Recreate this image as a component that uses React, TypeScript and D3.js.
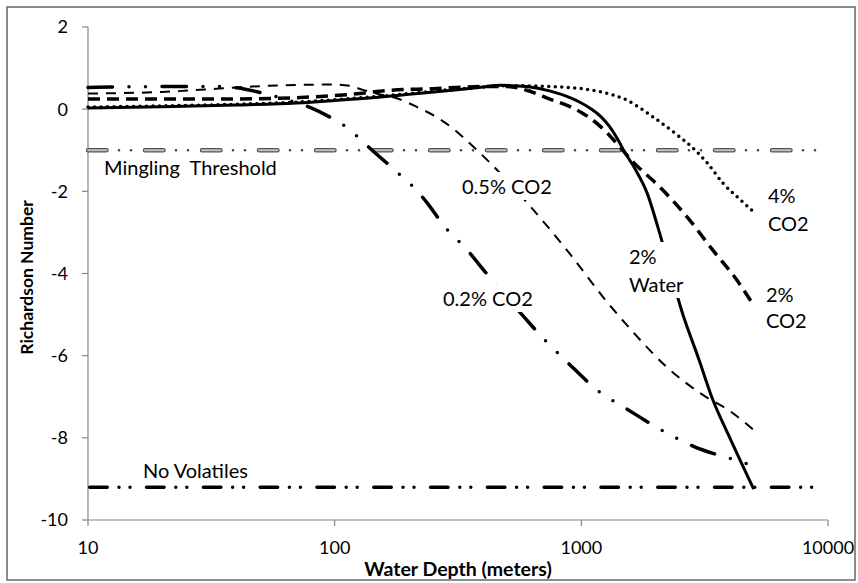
import React, { useEffect, useRef } from 'react';
import * as d3 from 'd3';

const W = 858;
const H = 583;

const xTicks = [10, 100, 1000, 10000];
const yTicks = [2, 0, -2, -4, -6, -8, -10];

// 2% Water (solid)
const water2Depth = [10, 20, 40, 70, 100, 150, 200, 300, 400, 470, 600, 750, 900, 1000, 1100, 1200, 1300, 1400, 1500, 1650, 1850, 2050, 2250, 2550, 3000, 3400, 4000, 5000];
const water2Ri = [0.03, 0.06, 0.1, 0.15, 0.21, 0.29, 0.36, 0.46, 0.54, 0.58, 0.55, 0.44, 0.28, 0.15, 0.0, -0.18, -0.42, -0.72, -1.05, -1.45, -2.05, -2.9, -3.75, -4.9, -6.1, -7.05, -8.0, -9.25];

// 2% CO2 (thick dashed)
const co2TwoDepth = [10, 40, 70, 100, 130, 160, 250, 400, 500, 600, 750, 900, 1000, 1200, 1400, 1600, 2100, 2750, 3400, 4270, 5000];
const co2TwoRi = [0.25, 0.25, 0.28, 0.33, 0.39, 0.45, 0.5, 0.55, 0.55, 0.46, 0.24, 0.06, -0.08, -0.43, -0.85, -1.25, -1.92, -2.7, -3.42, -4.16, -4.78];

// 4% CO2 (dotted)
const co2FourDepth = [10, 20, 40, 70, 100, 150, 200, 300, 400, 500, 750, 1000, 1200, 1530, 1900, 2450, 2830, 3230, 3750, 4400, 5000];
const co2FourRi = [0.05, 0.08, 0.12, 0.17, 0.23, 0.31, 0.38, 0.48, 0.54, 0.57, 0.55, 0.5, 0.42, 0.22, -0.14, -0.63, -0.94, -1.3, -1.8, -2.2, -2.5];

// 0.5% CO2 (thin dashed)
const co2HalfDepth = [10, 20, 30, 40, 60, 100, 115, 130, 150, 180, 216, 260, 300, 331, 378, 427, 603, 874, 1270, 1618, 2223, 3027, 4117, 5000];
const co2HalfRi = [0.38, 0.42, 0.48, 0.53, 0.58, 0.6, 0.57, 0.47, 0.37, 0.26, 0.05, -0.2, -0.46, -0.68, -1.0, -1.31, -2.28, -3.43, -4.69, -5.42, -6.28, -6.91, -7.4, -7.81];

// 0.2% CO2 (long dash dot dot)
const co2FifthDepth = [10, 20, 35, 40, 52, 65, 79, 100, 113, 128, 142, 175, 216, 237, 280, 341, 418, 590, 711, 874, 1189, 1530, 2183, 2834, 4196, 5000];
const co2FifthRi = [0.53, 0.55, 0.55, 0.52, 0.38, 0.22, 0.05, -0.26, -0.46, -0.75, -1.0, -1.48, -1.99, -2.28, -2.87, -3.4, -4.04, -5.08, -5.62, -6.15, -6.89, -7.3, -7.86, -8.2, -8.54, -8.68];

// Reference lines
const refDepth = [10, 10000];
const minglingRi = [-1, -1];
const noVolatilesRi = [-9.2, -9.2];

const FONT = 'Lato, "Open Sans", sans-serif';

export default function App() {
  const ref = useRef<SVGSVGElement>(null);

  useEffect(() => {
    const svg = d3.select(ref.current as SVGSVGElement);
    svg.selectAll('*').remove();

    const x = d3.scaleLog().domain([10, 10000]).range([88, 828]);
    const y = d3.scaleLinear().domain([-10, 2]).range([520, 27]);

    svg.append('rect').attr('x', 0).attr('y', 0).attr('width', W).attr('height', H).attr('fill', '#fff');
    svg.append('rect').attr('x', 7).attr('y', 7).attr('width', 848).attr('height', 573)
      .attr('fill', 'none').attr('stroke', '#666').attr('stroke-width', 1.5);

    // axes
    const axisColor = '#868686';
    const g = svg.append('g');
    g.append('line').attr('x1', x(10)).attr('x2', x(10)).attr('y1', y(2)).attr('y2', y(-10))
      .attr('stroke', axisColor).attr('stroke-width', 1.2);
    g.append('line').attr('x1', x(10)).attr('x2', x(10000)).attr('y1', y(-10)).attr('y2', y(-10))
      .attr('stroke', axisColor).attr('stroke-width', 1.2);
    yTicks.forEach((t) => {
      g.append('line').attr('x1', x(10) - 6).attr('x2', x(10)).attr('y1', y(t)).attr('y2', y(t))
        .attr('stroke', axisColor).attr('stroke-width', 1.2);
      g.append('text').attr('x', x(10) - 20).attr('y', y(t)).attr('dy', '0.36em')
        .attr('text-anchor', 'end').attr('font-family', FONT).attr('font-size', 18).attr('fill', '#000')
        .text(String(t));
    });
    xTicks.forEach((t) => {
      g.append('line').attr('x1', x(t)).attr('x2', x(t)).attr('y1', y(-10)).attr('y2', y(-10) + 6)
        .attr('stroke', axisColor).attr('stroke-width', 1.2);
      g.append('text').attr('x', x(t)).attr('y', 554)
        .attr('text-anchor', 'middle').attr('font-family', FONT).attr('font-size', 18).attr('fill', '#000')
        .text(String(t));
    });
    g.append('text').attr('x', (x(10) + x(10000)) / 2).attr('y', 576)
      .attr('text-anchor', 'middle').attr('font-family', FONT).attr('font-size', 19.5).attr('font-weight', 'bold')
      .text('Water Depth (meters)');
    g.append('text').attr('transform', `translate(33, ${(y(2) + y(-10)) / 2 + 4}) rotate(-90)`)
      .attr('text-anchor', 'middle').attr('font-family', FONT).attr('font-size', 17.5).attr('font-weight', 'bold')
      .text('Richardson Number');

    const line = d3.line<[number, number]>()
      .x((d) => x(d[0]))
      .y((d) => y(d[1]))
      .curve(d3.curveMonotoneX);
    const pts = (xs: number[], ys: number[]) => xs.map((v, i) => [v, ys[i]] as [number, number]);

    // Mingling threshold (gray outlined dash, dot, dot)
    const ming = pts(refDepth, minglingRi);
    svg.append('path').attr('d', line(ming)).attr('fill', 'none').attr('stroke', '#555')
      .attr('stroke-width', 4.5).attr('stroke-linecap', 'round').attr('stroke-dasharray', '18.5 38.5');
    svg.append('path').attr('d', line(ming)).attr('fill', 'none').attr('stroke', '#c4c4c4')
      .attr('stroke-width', 2).attr('stroke-linecap', 'round').attr('stroke-dasharray', '18.5 38.5');
    svg.append('path').attr('d', line(ming)).attr('fill', 'none').attr('stroke', '#444')
      .attr('stroke-width', 2.6).attr('stroke-linecap', 'round').attr('stroke-dasharray', '0 12 0 45')
      .attr('stroke-dashoffset', 26);

    // No volatiles
    svg.append('path').attr('d', line(pts(refDepth, noVolatilesRi))).attr('fill', 'none').attr('stroke', '#000')
      .attr('stroke-width', 3.5).attr('stroke-linecap', 'round')
      .attr('stroke-dasharray', '17.5 11.75 0 11 0 16.55').attr('stroke-dashoffset', -1.75);

    // series
    svg.append('path').attr('d', line(pts(co2FifthDepth, co2FifthRi))).attr('fill', 'none').attr('stroke', '#000')
      .attr('stroke-width', 3.5).attr('stroke-linecap', 'round')
      .attr('stroke-dasharray', '24.5 16.5 0 16.5 0 16.5');
    svg.append('path').attr('d', line(pts(co2HalfDepth, co2HalfRi))).attr('fill', 'none').attr('stroke', '#000')
      .attr('stroke-width', 2).attr('stroke-dasharray', '10 8');
    svg.append('path').attr('d', line(pts(co2FourDepth, co2FourRi))).attr('fill', 'none').attr('stroke', '#000')
      .attr('stroke-width', 3.5).attr('stroke-linecap', 'round').attr('stroke-dasharray', '0 6.5');
    svg.append('path').attr('d', line(pts(co2TwoDepth, co2TwoRi))).attr('fill', 'none').attr('stroke', '#000')
      .attr('stroke-width', 3.5).attr('stroke-dasharray', '12 7');
    svg.append('path').attr('d', line(pts(water2Depth, water2Ri))).attr('fill', 'none').attr('stroke', '#000')
      .attr('stroke-width', 3);

    // annotations
    const labels: { lines: string[]; x: number; y: number; lh: number; bg: boolean }[] = [
      { lines: ['Mingling  Threshold'], x: 104, y: 175, lh: 0, bg: false },
      { lines: ['No Volatiles'], x: 143, y: 478, lh: 0, bg: false },
      { lines: ['0.5% CO2'], x: 462, y: 194, lh: 0, bg: true },
      { lines: ['0.2% CO2'], x: 443, y: 306, lh: 0, bg: true },
      { lines: ['2%', 'Water'], x: 629, y: 264, lh: 28, bg: true },
      { lines: ['4%', 'CO2'], x: 768, y: 203, lh: 28, bg: false },
      { lines: ['2%', 'CO2'], x: 766, y: 302, lh: 26, bg: false },
    ];
    labels.forEach((l) => {
      const lg = svg.append('g');
      const bgRect = lg.append('rect').attr('fill', '#fff');
      const t = lg.append('text').attr('font-family', FONT).attr('font-size', 20).attr('fill', '#000')
        .style('white-space', 'pre');
      l.lines.forEach((s, i) => {
        t.append('tspan').attr('x', l.x).attr('y', l.y + i * l.lh).text(s);
      });
      if (l.bg) {
        const bb = (t.node() as SVGTextElement).getBBox();
        bgRect.attr('x', bb.x - 4).attr('y', bb.y - 2).attr('width', bb.width + 8).attr('height', bb.height + 4);
      } else {
        bgRect.remove();
      }
    });
  }, []);

  return (
    <svg
      ref={ref}
      width={W}
      height={H}
      style={{ position: 'absolute', left: 0, top: 0, display: 'block' }}
    />
  );
}
